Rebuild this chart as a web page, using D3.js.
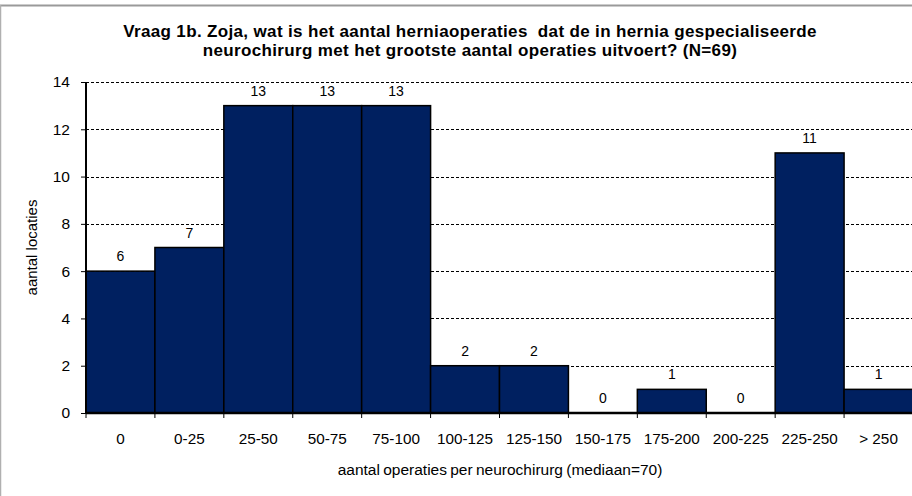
<!DOCTYPE html>
<html>
<head>
<meta charset="utf-8">
<script src="https://cdn.jsdelivr.net/npm/d3@7"></script>
<style>
  body { margin: 0; background: #fff; }
  text { font-family: "Liberation Sans", Arial, sans-serif; fill: #000; }
</style>
</head>
<body>
<div id="wrapper"></div>
<script>
const categories = ["0", "0-25", "25-50", "50-75", "75-100", "100-125", "125-150",
  "150-175", "175-200", "200-225", "225-250", "> 250"];
const counts = [6, 7, 13, 13, 13, 2, 2, 0, 1, 0, 11, 1];
const yTicks = [0, 2, 4, 6, 8, 10, 12, 14];

const dimensions = {
  width: 912,
  height: 496,
  margin: { top: 82, right: -1, bottom: 83, left: 86 },
};
dimensions.boundedWidth = dimensions.width - dimensions.margin.left - dimensions.margin.right;
dimensions.boundedHeight = dimensions.height - dimensions.margin.top - dimensions.margin.bottom;

const svg = d3.select("#wrapper").append("svg")
  .attr("width", dimensions.width)
  .attr("height", dimensions.height);

// outer frame (gray edges)
svg.append("line").attr("x1", 0).attr("x2", 912).attr("y1", 5.5).attr("y2", 5.5)
  .attr("stroke", "#9a9a9a").attr("stroke-width", 2);
svg.append("line").attr("x1", 0.5).attr("x2", 0.5).attr("y1", 5).attr("y2", 496)
  .attr("stroke", "#b0b0b0").attr("stroke-width", 1.5);

// title
const title = svg.append("text")
  .attr("text-anchor", "middle")
  .style("white-space", "pre")
  .style("letter-spacing", "0.35px")
  .style("font-weight", "bold").style("font-size", "17px");
title.append("tspan").attr("x", 470).attr("y", 37)
  .text("Vraag 1b. Zoja, wat is het aantal herniaoperaties  dat de in hernia gespecialiseerde");
title.append("tspan").attr("x", 470).attr("y", 56)
  .text("neurochirurg met het grootste aantal operaties uitvoert? (N=69)");

const bounds = svg.append("g")
  .attr("transform", `translate(${dimensions.margin.left},${dimensions.margin.top})`);

const xScale = d3.scaleBand()
  .domain(categories)
  .range([0, dimensions.boundedWidth])
  .padding(0);

const yScale = d3.scaleLinear()
  .domain([0, 14])
  .range([dimensions.boundedHeight, 0]);

// gridlines
bounds.selectAll(".grid")
  .data(yTicks.filter((d) => d > 0))
  .join("line")
  .attr("class", "grid")
  .attr("x1", 0).attr("x2", dimensions.boundedWidth)
  .attr("y1", (d) => Math.round(yScale(d)) + 0.5)
  .attr("y2", (d) => Math.round(yScale(d)) + 0.5)
  .attr("stroke", "#000")
  .attr("stroke-dasharray", "3,2")
  .attr("stroke-width", 1);

// bars
bounds.selectAll(".bar")
  .data(counts)
  .join("rect")
  .attr("class", "bar")
  .attr("x", (d, i) => xScale(categories[i]))
  .attr("y", (d) => yScale(d))
  .attr("width", xScale.bandwidth())
  .attr("height", (d) => dimensions.boundedHeight - yScale(d))
  .attr("fill", "#002060")
  .attr("stroke", "#000")
  .attr("stroke-width", 1.5);

// value labels
bounds.selectAll(".val")
  .data(counts)
  .join("text")
  .attr("class", "val")
  .attr("x", (d, i) => xScale(categories[i]) + xScale.bandwidth() / 2)
  .attr("y", (d) => yScale(d) - 10)
  .attr("text-anchor", "middle")
  .style("font-size", "14px")
  .text((d) => d);

// y axis
const yAxis = bounds.append("g")
  .call(d3.axisLeft(yScale).tickValues(yTicks).tickSize(5).tickPadding(11));
yAxis.select(".domain").attr("stroke", "#000").attr("stroke-width", 2)
  .attr("d", `M0,${dimensions.boundedHeight}V0`);
yAxis.selectAll(".tick line").attr("stroke", "#000");
yAxis.selectAll(".tick text").style("font-size", "15.5px").attr("font-family", null);

// x axis
const xAxis = bounds.append("g")
  .attr("transform", `translate(0,${dimensions.boundedHeight})`)
  .call(d3.axisBottom(xScale).tickSize(0).tickPadding(20));
xAxis.select(".domain").attr("d", `M0,0H${dimensions.boundedWidth}`)
  .attr("stroke", "#000").attr("stroke-width", 2.5);
xAxis.selectAll(".tick text").style("font-size", "15.3px");
xAxis.selectAll(".sep")
  .data(categories)
  .join("line")
  .attr("class", "sep")
  .attr("x1", (d) => xScale(d)).attr("x2", (d) => xScale(d))
  .attr("y1", 0).attr("y2", 5)
  .attr("stroke", "#000");

// axis titles
svg.append("text")
  .attr("x", 500).attr("y", 475)
  .attr("text-anchor", "middle")
  .style("font-size", "15.5px")
  .style("word-spacing", "-1px")
  .text("aantal operaties per neurochirurg (mediaan=70)");

svg.append("text")
  .attr("transform", `translate(37,${dimensions.margin.top + dimensions.boundedHeight / 2}) rotate(-90)`)
  .attr("text-anchor", "middle")
  .style("font-size", "15px")
  .text("aantal locaties");
</script>
</body>
</html>
